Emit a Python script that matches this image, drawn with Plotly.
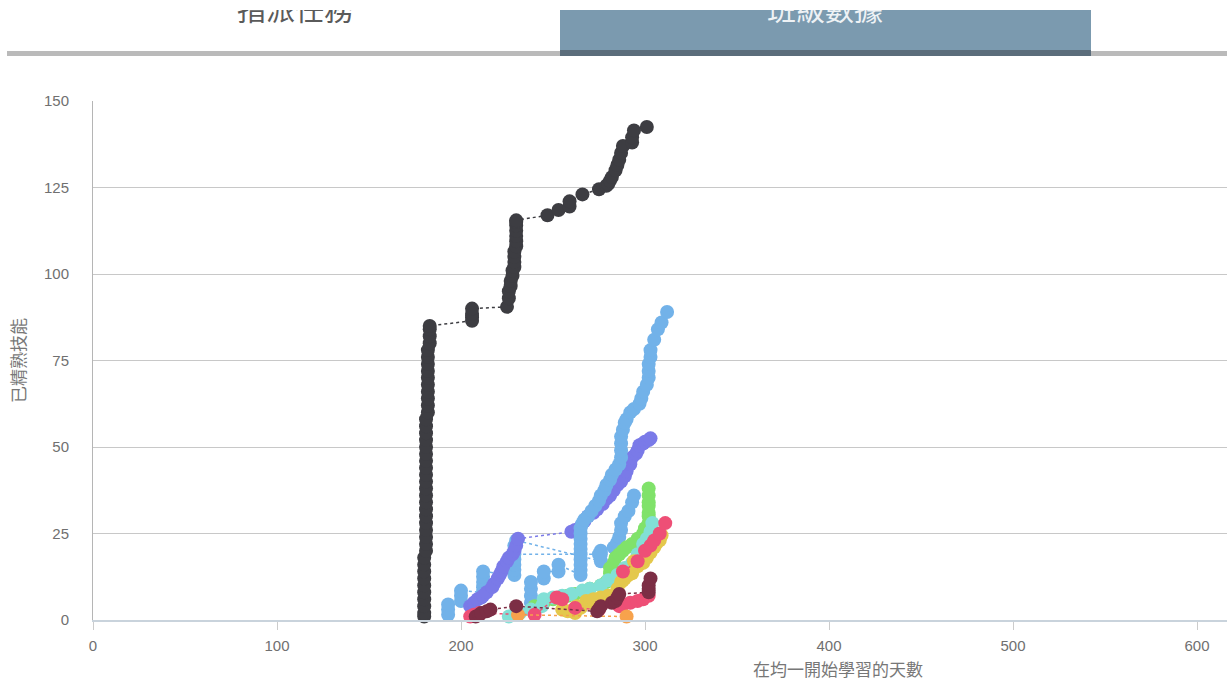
import plotly.graph_objects as go

# ---------------- data ----------------
dark_x = [180,180,180,180,180,180,180,180,180,180,
          181,181,181,181,181,181,181,181,181,181,181,181,181,181,181,181,181,181,181,181,
          182,182,182,182,182,182,182,182,182,182,183,183,183,183,
          206,206,206,206,225,226,226,227,227,228,228,229,229,229,229,230,230,230,230,230,230,230,
          247,253,259,259,266,275,279,280,281,282,284,285,286,287,288,293,293,294,301]
dark_y = [1,2,4,6,8,10,12,14,16,18,
          20,22,24,26,28,30,32,34,36,38,40,42,44,46,48,50,52,54,56,58,
          60,62,64,66,68,70,72,74,76,78,80,82,84,85,
          86.5,87.5,88.5,90,90.5,93,95,96.5,98,99.5,101,102,103.5,105,106.5,108,109.5,111,112.5,114,115,115.5,
          117,118.5,119.5,121,123,124.5,125.5,126,127,128,130,131.5,133,135,137,138,139.5,141.5,142.5]

lb1_x = [193,193,193,200,200,200,212,212,212,212,212,229,229,229,229,229,275,276,283,285,286,287,287,289,291,293,294]
lb1_y = [1.5,3,4.5,5.5,7,8.5,8,9.5,11,12.5,14,13,14.5,16,17.5,19,19,20,21,22.5,24,26,28,30,31.5,34,36]

lb2_x = [238,238,238,238,238,245,245,253,253,265,265,265,265,265,265,265,265,265,265,266,267,269,271,273,275,276,278,279,281,282,284,286,287,287,287,287,288,289,290,292,294,297,298,299,301,302,302,302,303,303,305,307,309,312]
lb2_y = [3,5,7,9,11,12,14,14,16,13,14.5,16,17.5,19,20.5,22,23.5,25,26.5,28,29,30,31.5,33,34.5,36,37.5,39,40.5,42,43.5,45,47,49,51,53,55,57,58,60,61,62.5,64,66,68,70,72,74,76,78,81,84,86,89]

lb3_x = [229,229,230,276,276,302]
lb3_y = [20,21.5,23,17,19,20]

purple_x = [205,207,209,211,212,214,217,218,220,221,222,223,225,226,228,229,230,231,260,262,265,267,269,272,274,277,279,281,283,285,287,289,290,292,293,295,296,297,299,300,302,303]
purple_y = [4,5,6,6.5,7,8,9.5,10.5,12,13,14,15.5,17,18,19,20,21.5,23.5,25.5,26,27,28.5,30,31,32,33.5,35,36,37.5,39,40,41.5,43,45,47,48,49,50.5,51,51.5,52,52.5]

green_x = [240,245,250,254,258,262,266,270,276,279,281,281,281,283,284,286,288,290,293,296,299,300,302,302,302,302,302,302,302]
green_y = [4,5,6,6.5,7,7.5,8,9,10,11,12,13.5,15,16.5,18,19,20,21,22,23.5,25,26.5,28,30,31,33,34,36,38]

cyan_x = [226,229,232,238,244,245,250,255,260,266,270,276,280,285,289,293,296,299,301,303,304]
cyan_y = [1,1.5,2,3,4,6,6.5,7,7.5,8.5,9,10,11.5,13,15,16.5,19,22,23.5,25.5,28]

yellow_x = [255,258,262,263,265,268,270,272,276,280,283,285,287,288,289,291,293,294,296,299,301,303,305,306,308,309]
yellow_y = [3,2.5,2,4,3.5,5.5,5,6,6.5,7,7,9,11,11.5,12,13,13.5,17,15.5,16.5,18,19.5,21,22,23,24.5]

red_x = [205,207,210,240,252,255,262,275,286,288,292,296,299,302]
red_y = [1,1.5,2,1.5,6.5,6,3.5,3,4,4.5,5,5.5,6,7]

red2_x = [288,296,300,303,305,308,311]
red2_y = [14,17,20,21.5,23,25,28]

maroon_x = [208,210,211,214,216,230,274,275,276,282,284,285,286,302,302,302,303]
maroon_y = [1,1.5,2,2.5,3,4,2.5,3.2,4,5,5.5,6.5,7.5,8,9,10,12]

orange_x = [231,290]
orange_y = [1.5,1]

x_ticks = [0, 100, 200, 300, 400, 500, 600]
y_ticks = [0, 25, 50, 75, 100, 125, 150]
tab_labels = ["指派任務", "班級數據"]
x_title = "在均一開始學習的天數"
y_title = "已精熟技能"

series = [
    (dark_x, dark_y, "#3d3d42"),
    (lb1_x, lb1_y, "#72b2e9"),
    (lb3_x, lb3_y, "#72b2e9"),
    (purple_x, purple_y, "#7a7ae8"),
    (lb2_x, lb2_y, "#72b2e9"),
    (green_x, green_y, "#80e26a"),
    (cyan_x, cyan_y, "#82e0d6"),
    (yellow_x, yellow_y, "#e4c84c"),
    (red2_x, red2_y, "#ee4f76"),
    (red_x, red_y, "#ee4f76"),
    (orange_x, orange_y, "#f7a24c"),
    (maroon_x, maroon_y, "#7c2e45"),
]

# ---------------- figure ----------------
W, H = 1227, 681
ML, MR, MT, MB = 93, 0, 10, 61
PH = H - MT - MB
PW = W - ML - MR

def py(p):  # pixel y -> paper y
    return (H - MB - p) / PH

def px(p):  # pixel x -> paper x
    return (p - ML) / PW

fig = go.Figure()
for xs, ys, c in series:
    fig.add_trace(go.Scatter(
        x=xs, y=ys, mode="lines+markers",
        line=dict(color=c, width=1.5, dash="dot"),
        marker=dict(color=c, size=14, line=dict(width=0)),
        showlegend=False, hoverinfo="skip", cliponaxis=False,
    ))

# tab labels (clipped at the top like the reference)
fig.add_trace(go.Scatter(
    x=[295, 825], y=[14, 14], mode="text", text=tab_labels,
    textfont=dict(family="Noto Sans CJK TC", size=29, color=["#5a5a5a", "#eef2f5"]),
    xaxis="x2", yaxis="y2", showlegend=False, hoverinfo="skip", cliponaxis=True,
))

font_num = "Liberation Sans, Arial, sans-serif"
fig.update_layout(
    width=W, height=H, autosize=False,
    margin=dict(l=ML, r=MR, t=MT, b=MB, pad=0),
    paper_bgcolor="white", plot_bgcolor="white",
    xaxis=dict(range=[0, PW / 1.84], tickvals=x_ticks, showgrid=False, zeroline=False,
               showline=True, linecolor="#c9d3dc", linewidth=1.5,
               ticks="outside", ticklen=8, tickcolor="#cccccc", tickwidth=1,
               tickfont=dict(family=font_num, size=15, color="#707070"),
               ticklabelstandoff=3, domain=[0, 1], anchor="y"),
    yaxis=dict(range=[0, 150], tickvals=y_ticks, showgrid=True, gridcolor="#c8c8c8", gridwidth=1,
               zeroline=False, showline=True, linecolor="#b5b5b5", linewidth=1,
               ticks="", tickfont=dict(family=font_num, size=15, color="#707070"),
               ticklabelstandoff=20,
               title=dict(text=y_title, font=dict(family="Noto Sans CJK TC", size=17, color="#777777"), standoff=14),
               domain=[0, py(101)], anchor="x"),
    xaxis2=dict(range=[ML, W], visible=False, domain=[0, 1], anchor="y2", fixedrange=True),
    yaxis2=dict(range=[100, 10], visible=False, domain=[py(100), 1], anchor="x2", fixedrange=True),
    annotations=[dict(text=x_title, xref="paper", yref="paper", x=px(838), y=py(669),
                      xanchor="center", yanchor="middle", showarrow=False,
                      font=dict(family="Noto Sans CJK TC", size=17, color="#777777"))],
    shapes=[
        dict(type="rect", xref="paper", yref="paper", x0=px(7), x1=1, y0=py(56), y1=py(51),
             fillcolor="#bababa", line=dict(width=0), layer="below"),
        dict(type="rect", xref="paper", yref="paper", x0=px(560), x1=px(1091), y0=py(56), y1=1,
             fillcolor="#7b9aaf", line=dict(width=0), layer="below"),
        dict(type="rect", xref="paper", yref="paper", x0=px(560), x1=px(1091), y0=py(56), y1=py(50),
             fillcolor="#5b6d7b", line=dict(width=0), layer="below"),
    ],
)

fig.write_html("out.html", config={"displayModeBar": False},
               post_script="document.body.style.margin='0';document.body.style.overflow='hidden';")
